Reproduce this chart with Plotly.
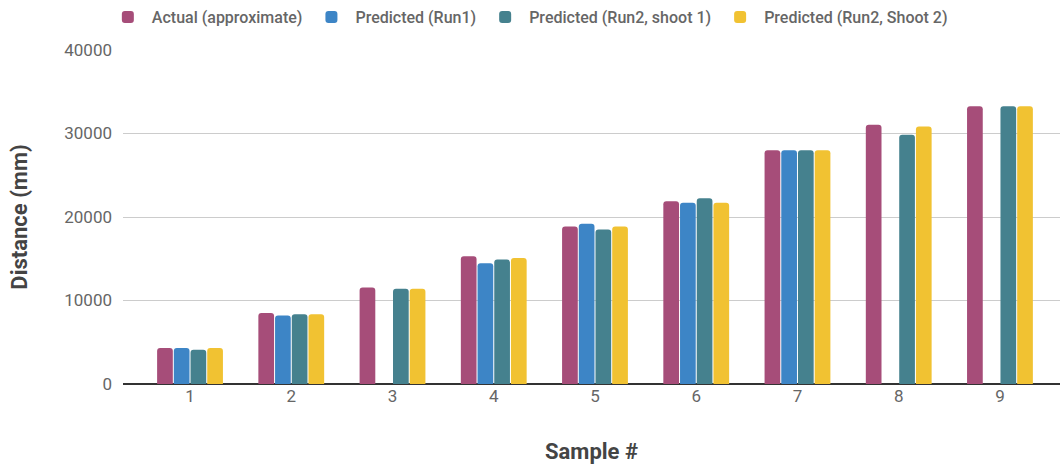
import plotly.graph_objects as go

# Sample numbers on the x axis
samples = [1, 2, 3, 4, 5, 6, 7, 8, 9]

# Measured / predicted distances in mm (None = no prediction for that sample)
actual = [4300, 8500, 11550, 15300, 18850, 21900, 28000, 31050, 33250]
run1 = [4300, 8200, None, 14450, 19200, 21700, 28000, None, None]
run2_shoot1 = [4100, 8350, 11400, 14900, 18500, 22250, 28000, 29850, 33250]
run2_shoot2 = [4300, 8350, 11400, 15100, 18850, 21700, 28000, 30850, 33250]

series = [
    ("Actual (approximate)", actual, "#a64d79"),
    ("Predicted (Run1)", run1, "#3d85c6"),
    ("Predicted (Run2, shoot 1)", run2_shoot1, "#45818e"),
    ("Predicted (Run2, Shoot 2)", run2_shoot2, "#f1c232"),
]

fig = go.Figure()
for name, values, color in series:
    fig.add_trace(go.Bar(
        x=samples, y=values, name=name,
        marker=dict(color=color, line=dict(width=0)),
    ))

fig.update_layout(
    width=1060, height=471,
    margin=dict(l=123, r=0, t=50, b=87),
    paper_bgcolor="white", plot_bgcolor="white",
    font=dict(family="Roboto", color="#666666"),
    barmode="group", bargap=0.34, bargroupgap=0.06,
    barcornerradius=3,
    showlegend=True,
    legend=dict(
        orientation="h", x=0.4326, xanchor="center", y=1.0, yref="container",
        yanchor="top",
        font=dict(family="Roboto", size=16, color="#666666", weight=500),
        itemsizing="constant", itemwidth=38, traceorder="normal",
    ),
    xaxis=dict(
        range=[0.338, 9.593], tickvals=samples, ticktext=[str(s) for s in samples],
        showgrid=False, zeroline=False, showline=False, ticks="",
        tickfont=dict(size=17, color="#666666"),
        title=dict(text="Sample #", font=dict(size=22, color="#444444", weight="bold"),
                   standoff=38),
    ),
    yaxis=dict(
        range=[0, 40000], tickvals=[0, 10000, 20000, 30000, 40000],
        ticktext=["0", "10000", "20000", "30000", "40000"],
        showgrid=True, gridcolor="#cccccc", gridwidth=1,
        zeroline=True, zerolinecolor="#333333", zerolinewidth=2,
        showline=False, ticks="", ticklabelstandoff=10,
        tickfont=dict(size=17, color="#666666"),
        title=dict(text="Distance (mm)", font=dict(size=22, color="#444444", weight="bold"),
                   standoff=30),
    ),
)

fig.write_html("out.html")
